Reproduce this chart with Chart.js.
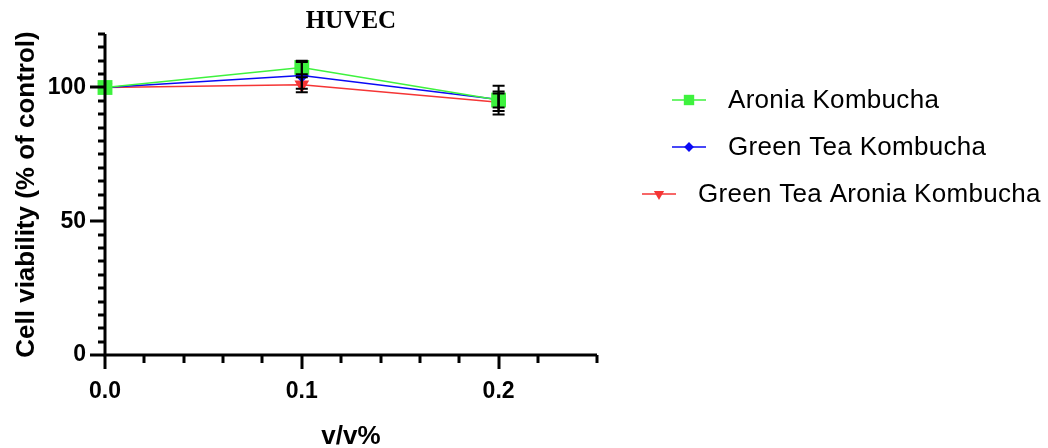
<!DOCTYPE html>
<html>
<head>
<meta charset="utf-8">
<script src="https://cdn.jsdelivr.net/npm/chart.js@4.4.1/dist/chart.umd.min.js"></script>
<style>
  html, body { margin: 0; padding: 0; background: #fff; }
  #wrap { width: 1048px; height: 448px; }
</style>
</head>
<body>
<div id="wrap"><canvas id="chart" width="1048" height="448"></canvas></div>
<script>
// data
const doses = [0, 0.1, 0.2];
const seriesNames = ["Aronia Kombucha", "Green Tea Kombucha", "Green Tea Aronia Kombucha"];
const aroniaMean = [100, 107.5, 95.3];
const aroniaSd = [0, 2.5, 5.4];
const greenTeaMean = [100, 104.5, 95.5];
const greenTeaSd = [0, 5.0, 3.0];
const gtaMean = [100, 101, 94.5];
const gtaSd = [0, 2.8, 3.3];
const yMajor = [0, 50, 100];
const xMajor = [0, 0.1, 0.2];

const BOLD = "'Liberation Sans', Arial, sans-serif";

function pts(means) {
  return doses.map((d, i) => ({ x: d, y: means[i] }));
}

const isMajor = (v, list) => list.some(m => Math.abs(m - v) < 1e-6);

// error bars, tick marks, titles and legend
const decorations = {
  id: "decorations",
  afterDatasetsDraw(chart) {
    const { ctx, scales: { x, y } } = chart;
    ctx.save();
    ctx.strokeStyle = "#000";
    ctx.lineWidth = 2;
    chart.data.datasets.forEach(ds => {
      ds.data.forEach((p, i) => {
        const sd = ds.sd[i];
        if (!sd) return;
        const px = x.getPixelForValue(p.x);
        const top = y.getPixelForValue(p.y + sd);
        const bot = y.getPixelForValue(p.y - sd);
        ctx.beginPath();
        ctx.moveTo(px, top); ctx.lineTo(px, bot);
        ctx.moveTo(px - 6, top); ctx.lineTo(px + 6, top);
        ctx.moveTo(px - 6, bot); ctx.lineTo(px + 6, bot);
        ctx.stroke();
      });
    });
    ctx.restore();
  },
  afterDraw(chart) {
    const { ctx, chartArea: a, scales: { x, y } } = chart;
    ctx.save();
    ctx.strokeStyle = "#000";
    ctx.lineWidth = 3;
    ctx.lineCap = "butt";
    // y ticks
    y.ticks.forEach(t => {
      const py = Math.round(y.getPixelForValue(t.value));
      const len = isMajor(t.value, yMajor) ? 15 : 7;
      ctx.beginPath();
      ctx.moveTo(a.left, py); ctx.lineTo(a.left - len, py);
      ctx.stroke();
    });
    // x ticks
    x.ticks.forEach(t => {
      const px = Math.round(x.getPixelForValue(t.value));
      const len = isMajor(t.value, xMajor) ? 14 : 8;
      ctx.beginPath();
      ctx.moveTo(px, a.bottom); ctx.lineTo(px, a.bottom + len);
      ctx.stroke();
    });
    // axis lines
    ctx.beginPath();
    ctx.moveTo(a.left, a.top); ctx.lineTo(a.left, a.bottom + 1.5);
    ctx.moveTo(a.left - 1.5, a.bottom); ctx.lineTo(a.right, a.bottom);
    ctx.stroke();

    // title
    ctx.fillStyle = "#000";
    ctx.textAlign = "center";
    ctx.textBaseline = "middle";
    ctx.font = "bold 25px 'Liberation Serif', 'Times New Roman', serif";
    ctx.fillText("HUVEC", (a.left + a.right) / 2, 22);

    // axis titles
    ctx.font = "bold 26px " + BOLD;
    ctx.fillText("v/v%", (a.left + a.right) / 2, 437);
    ctx.save();
    ctx.translate(27, (a.top + a.bottom) / 2);
    ctx.rotate(-Math.PI / 2);
    ctx.fillText("Cell viability (% of control)", 0, 0);
    ctx.restore();

    // legend
    const rows = [
      { x0: 672, y0: 100, tx: 728 },
      { x0: 672, y0: 147, tx: 728 },
      { x0: 642, y0: 194, tx: 698 }
    ];
    ctx.font = "26px 'Liberation Sans', Arial, sans-serif";
    ctx.letterSpacing = "0.3px";
    ctx.textAlign = "left";
    chart.data.datasets.forEach((ds, i) => {
      const r = rows[i];
      ctx.strokeStyle = ds.borderColor;
      ctx.lineWidth = 1.5;
      ctx.beginPath();
      ctx.moveTo(r.x0, r.y0); ctx.lineTo(r.x0 + 34, r.y0);
      ctx.stroke();
      ctx.fillStyle = ds.pointBackgroundColor;
      ctx.strokeStyle = ds.pointBackgroundColor;
      Chart.helpers.drawPoint(ctx, {
        pointStyle: ds.pointStyle,
        radius: ds.pointRadius * 0.7,
        rotation: ds.pointRotation || 0,
        borderWidth: 0
      }, r.x0 + 17, r.y0);
      ctx.fillStyle = "#000";
      ctx.fillText(ds.label, r.tx, r.y0 + 1);
    });
    ctx.restore();
  }
};

new Chart(document.getElementById("chart"), {
  type: "line",
  data: {
    datasets: [
      {
        label: seriesNames[0], data: pts(aroniaMean), sd: aroniaSd,
        borderColor: "#3ef23e", pointBackgroundColor: "#3ef23e",
        pointStyle: "rect", pointRadius: 10.5
      },
      {
        label: seriesNames[1], data: pts(greenTeaMean), sd: greenTeaSd,
        borderColor: "#0a0af5", pointBackgroundColor: "#0a0af5",
        pointStyle: "rectRot", pointRadius: 7
      },
      {
        label: seriesNames[2], data: pts(gtaMean), sd: gtaSd,
        borderColor: "#f53535", pointBackgroundColor: "#f53535",
        pointStyle: "triangle", pointRotation: 180, pointRadius: 8.5
      }
    ].map(d => Object.assign({
      borderWidth: 1.5, pointBorderWidth: 0, pointBorderColor: d.borderColor,
      tension: 0, fill: false, clip: false
    }, d))
  },
  options: {
    responsive: false,
    animation: false,
    events: [],
    layout: { padding: { top: 34, right: 451, left: 0, bottom: 0 } },
    plugins: { legend: { display: false }, title: { display: false }, tooltip: { enabled: false } },
    scales: {
      x: {
        type: "linear", min: 0, max: 0.25,
        grid: { display: false, drawTicks: false, tickLength: 0 },
        border: { display: false },
        ticks: {
          stepSize: 0.02, autoSkip: false, maxRotation: 0, padding: 23,
          color: "#000", font: { family: BOLD, size: 23, weight: "bold" },
          callback: v => isMajor(v, xMajor) ? v.toFixed(1) : ""
        },
        afterFit: s => { s.height = 93; }
      },
      y: {
        min: 0, max: 120,
        grid: { display: false, drawTicks: false, tickLength: 0 },
        border: { display: false },
        ticks: {
          stepSize: 5, autoSkip: false, padding: 19,
          color: "#000", font: { family: BOLD, size: 23, weight: "bold" },
          callback: v => isMajor(v, yMajor) ? String(v) : ""
        },
        afterFit: s => { s.width = 105; }
      }
    }
  },
  plugins: [decorations]
});
</script>
</body>
</html>
